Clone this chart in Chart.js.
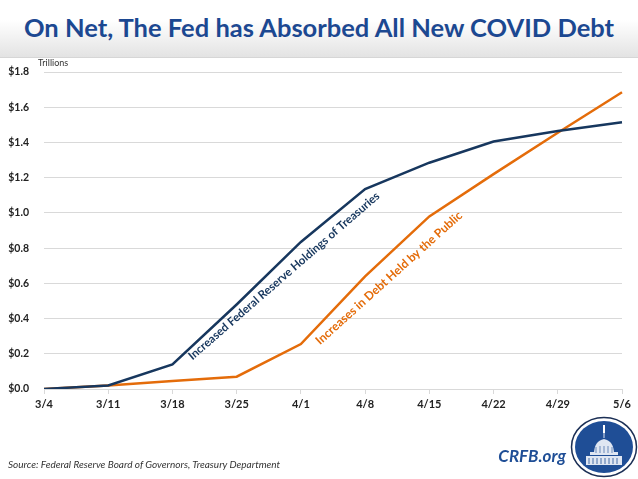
<!DOCTYPE html>
<html>
<head>
<meta charset="utf-8">
<script src="https://cdn.jsdelivr.net/npm/chart.js@4.4.1/dist/chart.umd.min.js"></script>
<style>
  html, body { margin: 0; padding: 0; background: #fff; }
  body { width: 638px; height: 479px; position: relative; overflow: hidden; font-family: Lato, "Open Sans", sans-serif; }
  #header {
    position: absolute; left: 0; top: 0; width: 638px; height: 57px;
    background: linear-gradient(#ffffff 35%, #e3e3e3 100%);
    border-bottom: 1px solid #d6d6d6;
  }
  #title {
    position: absolute; left: 0; top: 12px; width: 638px; text-align: center;
    font-weight: bold; font-size: 25.5px; color: #1c4891; white-space: nowrap;
  }
  #chart { position: absolute; left: 0; top: 0; }
  #source {
    position: absolute; left: 8px; top: 458px; font-size: 10px; font-style: italic; color: #333;
  }
  #crfb {
    position: absolute; right: 72px; top: 445px; font-size: 17px; font-weight: bold; font-style: italic; color: #1f4e96;
  }
  #logo { position: absolute; left: 570px; top: 416px; }
</style>
</head>
<body>
<div id="header"><div id="title">On Net, The Fed has Absorbed All New COVID Debt</div></div>
<canvas id="chart" width="638" height="479"></canvas>
<div id="source">Source: Federal Reserve Board of Governors, Treasury Department</div>
<div id="crfb">CRFB.org</div>
<svg id="logo" width="68" height="62" viewBox="0 0 68 62">
  <ellipse cx="34" cy="31" rx="32.5" ry="29.5" fill="#fff" stroke="#1b2f55" stroke-width="1.5"/>
  <ellipse cx="34" cy="31" rx="29" ry="26" fill="#1f4e96"/>
  <path d="M33 9 l2 0 l0 8 l-2 0 z" fill="#fff"/>
  <path d="M33.5 17 l1 0 l0 5 l-1 0 z" fill="#dfe6f2"/>
  <path d="M24 38 Q24 25 34 23 Q44 25 44 38 z" fill="#dfe6f2"/>
  <rect x="20" y="36" width="28" height="3" fill="#dfe6f2"/>
  <rect x="16" y="40" width="36" height="9" fill="#dfe6f2"/>
  <path d="M19 42 v6 M23 42 v6 M27 42 v6 M31 42 v6 M35 42 v6 M39 42 v6 M43 42 v6 M47 42 v6" stroke="#1f4e96" stroke-width="0.8"/>
  <path d="M26 31 v6 M30 30 v7 M34 30 v7 M38 30 v7 M42 31 v6" stroke="#1f4e96" stroke-width="0.6"/>
</svg>
<script>
const categories = ["3/4", "3/11", "3/18", "3/25", "4/1", "4/8", "4/15", "4/22", "4/29", "5/6"]
const fedHoldings = [0.0, 0.02, 0.14, 0.48, 0.835, 1.135, 1.285, 1.405, 1.465, 1.515]
const publicDebt = [0.0, 0.02, 0.045, 0.07, 0.255, 0.64, 0.98, 1.22, 1.455, 1.685]
const yTicks = [0, 0.2, 0.4, 0.6, 0.8, 1.0, 1.2, 1.4, 1.6, 1.8]

const navy = "#17375e"
const orange = "#e46c0a"

// Text labels along the lines, plus the "Trillions" unit
const annotations = {
  id: "annotations",
  afterDatasetsDraw(chart) {
    const ctx = chart.ctx
    ctx.save()
    ctx.font = "9px Lato"
    ctx.fillStyle = "#333"
    ctx.textAlign = "left"
    ctx.textBaseline = "alphabetic"
    ctx.fillText("Trillions", 38, 66)

    ctx.textAlign = "center"
    ctx.textBaseline = "middle"

    ctx.save()
    ctx.font = "bold 11.5px Lato"
    ctx.translate(284, 276)
    ctx.rotate(-41 * Math.PI / 180)
    ctx.fillStyle = navy
    ctx.fillText("Increased Federal Reserve Holdings of Treasuries", 0, 0)
    ctx.restore()

    ctx.save()
    ctx.font = "bold 12px Lato"
    ctx.translate(389, 278)
    ctx.rotate(-42 * Math.PI / 180)
    ctx.fillStyle = orange
    ctx.fillText("Increases in Debt Held by the Public", 0, 0)
    ctx.restore()

    ctx.restore()
  },
}

function drawChart() {
  new Chart(document.getElementById("chart"), {
    type: "line",
    data: {
      labels: categories,
      datasets: [
        {
          label: "Increased Federal Reserve Holdings of Treasuries",
          data: fedHoldings,
          borderColor: navy,
          borderWidth: 2.5,
          pointRadius: 0,
          tension: 0,
        },
        {
          label: "Increases in Debt Held by the Public",
          data: publicDebt,
          borderColor: orange,
          borderWidth: 2.5,
          pointRadius: 0,
          tension: 0,
        },
      ],
    },
    options: {
      responsive: false,
      animation: false,
      layout: { padding: { top: 72, right: 16, left: 0, bottom: 0 } },
      plugins: { legend: { display: false }, tooltip: { enabled: false } },
      scales: {
        x: {
          offset: false,
          afterFit: (scale) => { scale.height = 90 },
          grid: { drawOnChartArea: false, drawTicks: true, tickLength: 5, color: "#d9d9d9" },
          border: { display: true, color: "#d9d9d9" },
          ticks: { color: "#222", font: { family: "Lato", size: 11, weight: "bold" }, padding: 4, maxRotation: 0, autoSkip: false },
        },
        y: {
          min: 0,
          max: 1.8,
          afterFit: (scale) => { scale.width = 44 },
          afterBuildTicks: (scale) => { scale.ticks = yTicks.map((v) => ({ value: v })) },
          grid: { color: "#d9d9d9", drawTicks: false },
          border: { display: false },
          ticks: {
            color: "#222",
            font: { family: "Lato", size: 10.5, weight: "bold" },
            padding: 15,
            callback: (value) => "$" + value.toFixed(1),
          },
        },
      },
    },
    plugins: [annotations],
  })
}

Promise.all([
  document.fonts.load("bold 12px Lato"),
  document.fonts.load("9px Lato"),
]).then(drawChart, drawChart)
</script>
</body>
</html>
